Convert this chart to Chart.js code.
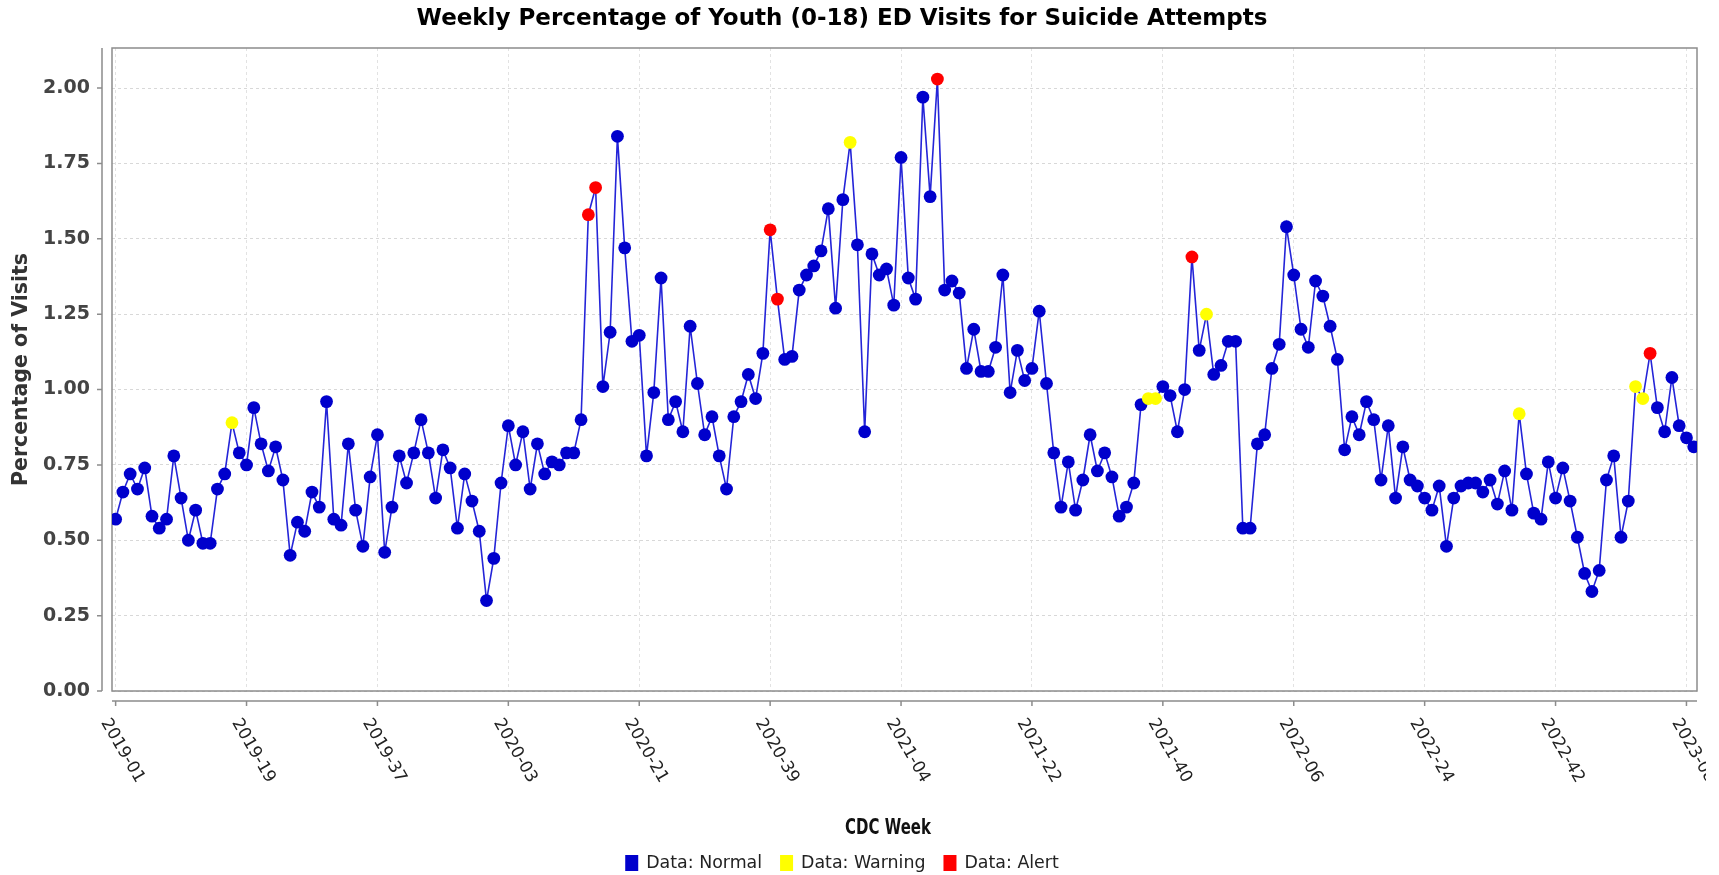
<!DOCTYPE html>
<html>
<head>
<meta charset="utf-8">
<title>Weekly Percentage of Youth (0-18) ED Visits for Suicide Attempts</title>
<script src="https://cdn.jsdelivr.net/npm/chart.js@4.4.1/dist/chart.umd.min.js"></script>
<style>
  html, body { margin: 0; padding: 0; background: #fff; overflow: hidden; }
</style>
</head>
<body>
<canvas id="myChart" width="1719" height="875"></canvas>
<script>
const chartTitle = 'Weekly Percentage of Youth (0-18) ED Visits for Suicide Attempts';
const yTitle = 'Percentage of Visits';
const xTitle = 'CDC Week';

// CDC weeks covered, per year
const years = [2019, 2020, 2021, 2022, 2023];
const weeksInYear = [52, 53, 52, 52, 9];

// weekly % of ED visits, 2019-01 .. 2023-09
const pct = [
  0.57, 0.66, 0.72, 0.67, 0.74, 0.58, 0.54, 0.57, 0.78, 0.64,
  0.50, 0.60, 0.49, 0.49, 0.67, 0.72, 0.89, 0.79, 0.75, 0.94,
  0.82, 0.73, 0.81, 0.70, 0.45, 0.56, 0.53, 0.66, 0.61, 0.96,
  0.57, 0.55, 0.82, 0.60, 0.48, 0.71, 0.85, 0.46, 0.61, 0.78,
  0.69, 0.79, 0.90, 0.79, 0.64, 0.80, 0.74, 0.54, 0.72, 0.63,
  0.53, 0.30, 0.44, 0.69, 0.88, 0.75, 0.86, 0.67, 0.82, 0.72,
  0.76, 0.75, 0.79, 0.79, 0.90, 1.58, 1.67, 1.01, 1.19, 1.84,
  1.47, 1.16, 1.18, 0.78, 0.99, 1.37, 0.90, 0.96, 0.86, 1.21,
  1.02, 0.85, 0.91, 0.78, 0.67, 0.91, 0.96, 1.05, 0.97, 1.12,
  1.53, 1.30, 1.10, 1.11, 1.33, 1.38, 1.41, 1.46, 1.60, 1.27,
  1.63, 1.82, 1.48, 0.86, 1.45, 1.38, 1.40, 1.28, 1.77, 1.37,
  1.30, 1.97, 1.64, 2.03, 1.33, 1.36, 1.32, 1.07, 1.20, 1.06,
  1.06, 1.14, 1.38, 0.99, 1.13, 1.03, 1.07, 1.26, 1.02, 0.79,
  0.61, 0.76, 0.60, 0.70, 0.85, 0.73, 0.79, 0.71, 0.58, 0.61,
  0.69, 0.95, 0.97, 0.97, 1.01, 0.98, 0.86, 1.00, 1.44, 1.13,
  1.25, 1.05, 1.08, 1.16, 1.16, 0.54, 0.54, 0.82, 0.85, 1.07,
  1.15, 1.54, 1.38, 1.20, 1.14, 1.36, 1.31, 1.21, 1.10, 0.80,
  0.91, 0.85, 0.96, 0.90, 0.70, 0.88, 0.64, 0.81, 0.70, 0.68,
  0.64, 0.60, 0.68, 0.48, 0.64, 0.68, 0.69, 0.69, 0.66, 0.70,
  0.62, 0.73, 0.60, 0.92, 0.72, 0.59, 0.57, 0.76, 0.64, 0.74,
  0.63, 0.51, 0.39, 0.33, 0.40, 0.70, 0.78, 0.51, 0.63, 1.01,
  0.97, 1.12, 0.94, 0.86, 1.04, 0.88, 0.84, 0.81
];

// positions (week index) flagged by the detector
const warningIdx = [16, 101, 142, 143, 150, 193, 209, 210];
const alertIdx = [65, 66, 90, 91, 113, 148, 211];

const yTicks = [0, 0.25, 0.5, 0.75, 1, 1.25, 1.5, 1.75, 2];
const labelEvery = 18;

const legendNames = ['Data: Normal', 'Data: Warning', 'Data: Alert'];
const statusColors = ['#0000cc', '#ffff00', '#ff0000'];

const FONT = '"DejaVu Sans", "Liberation Sans", sans-serif';

let weeks = [];
years.forEach((yr, k) => {
  for (let w = 1; w <= weeksInYear[k]; w++) {
    weeks.push(yr + '-' + String(w).padStart(2, '0'));
  }
});

let pointColors = pct.map((v, i) => {
  if (alertIdx.includes(i)) return statusColors[2];
  if (warningIdx.includes(i)) return statusColors[1];
  return statusColors[0];
});

const decor = {
  id: 'decor',
  beforeDraw(chart) {
    const c = chart.ctx;
    c.save();
    c.fillStyle = '#fff';
    c.fillRect(0, 0, chart.width, chart.height);
    c.restore();
  },
  beforeDatasetsDraw(chart) {
    const {ctx: c, chartArea: a} = chart;
    c.save();
    c.strokeStyle = '#8c8c8c';
    c.lineWidth = 1.5;
    c.strokeRect(a.left, a.top, a.right - a.left, a.bottom - a.top);
    c.restore();
  },
  afterDraw(chart) {
    const {ctx: c, chartArea: a} = chart;
    const x = chart.scales.x, y = chart.scales.y;
    c.save();

    // axis lines sit a little away from the plot, like the original
    c.strokeStyle = '#8c8c8c';
    c.lineWidth = 1.5;
    const ax = a.left - 10;
    const ay = a.bottom + 10;
    c.beginPath();
    c.moveTo(ax, a.top); c.lineTo(ax, a.bottom);
    yTicks.forEach(v => {
      const py = y.getPixelForValue(v);
      c.moveTo(ax - 5, py); c.lineTo(ax, py);
    });
    c.moveTo(a.left, ay); c.lineTo(a.right, ay);
    x.ticks.forEach(t => {
      const px = x.getPixelForValue(t.value);
      c.moveTo(px, ay); c.lineTo(px, ay + 5);
    });
    c.stroke();

    // week labels, turned down to the right (original image is cut at the right)
    c.save();
    c.beginPath();
    c.rect(0, 0, 1706, chart.height);
    c.clip();
    c.fillStyle = '#222';
    c.font = '17px ' + FONT;
    c.textAlign = 'left';
    c.textBaseline = 'middle';
    x.ticks.forEach(t => {
      const px = x.getPixelForValue(t.value);
      c.save();
      c.translate(px - 11, ay + 19);
      c.rotate(Math.PI / 3);
      c.fillText(weeks[t.value], 0, 0);
      c.restore();
    });
    c.restore();

    // title
    c.fillStyle = '#000';
    c.textBaseline = 'middle';
    c.font = 'bold 23px ' + FONT;
    c.textAlign = 'center';
    c.fillText(chartTitle, 842, 19);

    // axis titles
    c.fillStyle = '#111';
    c.font = 'bold 22px ' + FONT;
    c.save();
    c.translate(888, 828);
    c.scale(0.68, 1);
    c.fillText(xTitle, 0, 0);
    c.restore();
    c.fillStyle = '#333';
    c.font = 'bold 20.5px ' + FONT;
    c.save();
    c.translate(22, (a.top + a.bottom) / 2);
    c.rotate(-Math.PI / 2);
    c.fillText(yTitle, 0, 0);
    c.restore();

    // legend
    c.font = '17.4px ' + FONT;
    c.textAlign = 'left';
    const box = 13, gap = 8, sep = 18;
    let total = 0;
    legendNames.forEach((n, i) => {
      total += box + gap + c.measureText(n).width + (i < legendNames.length - 1 ? sep : 0);
    });
    let lx = 842 - total / 2;
    const ly = 863;
    legendNames.forEach((n, i) => {
      c.fillStyle = statusColors[i];
      c.fillRect(lx, ly - 8, box, 16);
      c.fillStyle = '#222';
      c.fillText(n, lx + box + gap, ly);
      lx += box + gap + c.measureText(n).width + sep;
    });

    c.restore();
  }
};

const myChart = new Chart(document.getElementById('myChart').getContext('2d'), {
  type: 'line',
  data: {
    datasets: [{
      label: yTitle,
      data: pct.map((v, i) => ({x: i, y: v})),
      borderColor: '#2424d8',
      borderWidth: 1.6,
      tension: 0,
      pointRadius: 6.4,
      pointHoverRadius: 6.4,
      pointBorderWidth: 0,
      pointBackgroundColor: pointColors,
      pointBorderColor: pointColors
    }]
  },
  options: {
    responsive: false,
    animation: false,
    layout: {padding: {left: 0, top: 48, right: 22, bottom: 0}},
    plugins: {
      legend: {display: false},
      title: {display: false},
      tooltip: {
        callbacks: {
          title: items => weeks[items[0].parsed.x]
        }
      }
    },
    scales: {
      x: {
        type: 'linear',
        min: -0.5,
        max: 217.45,
        afterBuildTicks: scale => {
          scale.ticks = weeks.map((w, i) => i)
            .filter(i => i % labelEvery === 0)
            .map(i => ({value: i}));
        },
        afterFit: scale => { scale.height = 184; },
        ticks: {display: false},
        grid: {color: '#e2e2e2', lineWidth: 1, drawTicks: false},
        border: {display: false, dash: [3, 3]}
      },
      y: {
        min: 0,
        max: 2.133,
        afterBuildTicks: scale => {
          scale.ticks = yTicks.map(v => ({value: v}));
        },
        afterFit: scale => { scale.width = 112; },
        ticks: {
          padding: 22,
          color: '#444',
          font: {family: FONT, size: 19, weight: 'bold'},
          callback: v => Number(v).toFixed(2)
        },
        grid: {color: '#d8d8d8', lineWidth: 1, drawTicks: false},
        border: {display: false, dash: [3, 3]}
      }
    }
  },
  plugins: [decor]
});
</script>
</body>
</html>
